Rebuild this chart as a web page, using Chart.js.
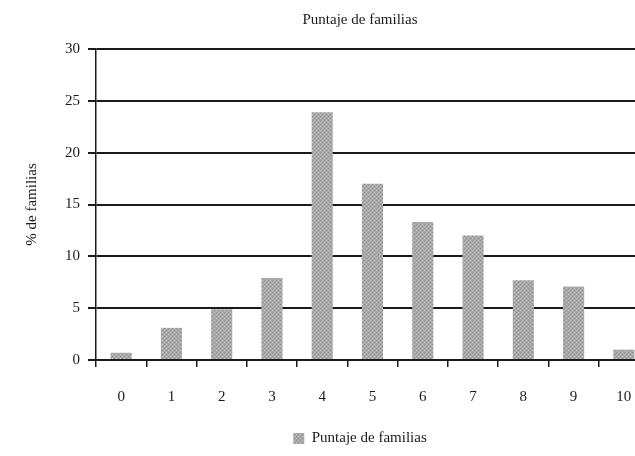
<!DOCTYPE html>
<html>
<head>
<meta charset="utf-8">
<script src="https://cdn.jsdelivr.net/npm/chart.js@4/dist/chart.umd.min.js"></script>
<style>
  html, body { margin: 0; padding: 0; background: #fff; overflow: hidden; }
  #wrap { width: 635px; height: 456px; overflow: hidden; }
</style>
</head>
<body>
<div id="wrap"><canvas id="chart" width="720" height="456"></canvas></div>
<script>
// puntajes (eje x) y % de familias
const puntajes = ['0', '1', '2', '3', '4', '5', '6', '7', '8', '9', '10'];
const porcentajes = [0.7, 3.1, 4.9, 7.9, 23.9, 17.0, 13.3, 12.0, 7.7, 7.1, 1.0];
const yTicks = [0, 5, 10, 15, 20, 25, 30];

// stippled grey like the printed bars
function stipple() {
  const c = document.createElement('canvas');
  c.width = 4; c.height = 4;
  const g = c.getContext('2d');
  g.fillStyle = '#a9a9a9';
  g.fillRect(0, 0, 4, 4);
  g.fillStyle = '#8c8c8c';
  g.fillRect(0, 0, 1, 1);
  g.fillRect(2, 2, 1, 1);
  g.fillStyle = '#c2c2c2';
  g.fillRect(2, 0, 1, 1);
  g.fillRect(0, 2, 1, 1);
  return g.createPattern(c, 'repeat');
}

const serif = 'Liberation Serif, DejaVu Serif, serif';
const ink = '#1a1a1a';

const ctx = document.getElementById('chart').getContext('2d');
new Chart(ctx, {
  type: 'bar',
  data: {
    labels: puntajes,
    datasets: [
      {
        label: 'Puntaje de familias',
        data: porcentajes,
        backgroundColor: stipple(),
        borderWidth: 0,
        barPercentage: 0.42,
        categoryPercentage: 1,
      },
    ],
  },
  options: {
    responsive: false,
    animation: false,
    devicePixelRatio: 1,
    layout: { padding: 0 },
    plugins: {
      tooltip: { enabled: false },
      title: {
        display: true,
        text: 'Puntaje de familias',
        color: ink,
        font: { family: serif, size: 15, weight: 'normal' },
        padding: { top: 11, bottom: 20 },
      },
      legend: {
        position: 'bottom',
        labels: {
          color: ink,
          font: { family: serif, size: 15 },
          boxWidth: 11,
          boxHeight: 11,
          padding: 9,
        },
      },
    },
    scales: {
      x: {
        offset: true,
        afterFit: (s) => { s.height = 62; },
        grid: {
          display: true,
          drawOnChartArea: false,
          drawTicks: true,
          tickLength: 7,
          color: ink,
          lineWidth: 1.5,
          offset: true,
        },
        border: { display: true, color: ink, width: 1.5 },
        ticks: {
          color: ink,
          font: { family: serif, size: 15 },
          padding: 21,
          maxRotation: 0,
        },
      },
      y: {
        min: 0,
        max: 30,
        afterFit: (s) => { s.width = 96; },
        afterBuildTicks: (s) => { s.ticks = yTicks.map((v) => ({ value: v })); },
        grid: {
          color: ink,
          lineWidth: 2,
          tickLength: 8,
        },
        border: { display: true, color: ink, width: 1.5 },
        ticks: {
          color: ink,
          font: { family: serif, size: 15 },
          padding: 8,
        },
        title: {
          display: true,
          text: '% de familias',
          color: ink,
          font: { family: serif, size: 15 },
          padding: { top: 23, bottom: 0 },
        },
      },
      // empty right margin so the title and legend centre on the full figure
      margen: {
        type: 'linear',
        position: 'right',
        afterFit: (s) => { s.width = 71; },
        grid: { display: false },
        border: { display: false },
        ticks: { display: false },
      },
    },
  },
});
</script>
</body>
</html>
